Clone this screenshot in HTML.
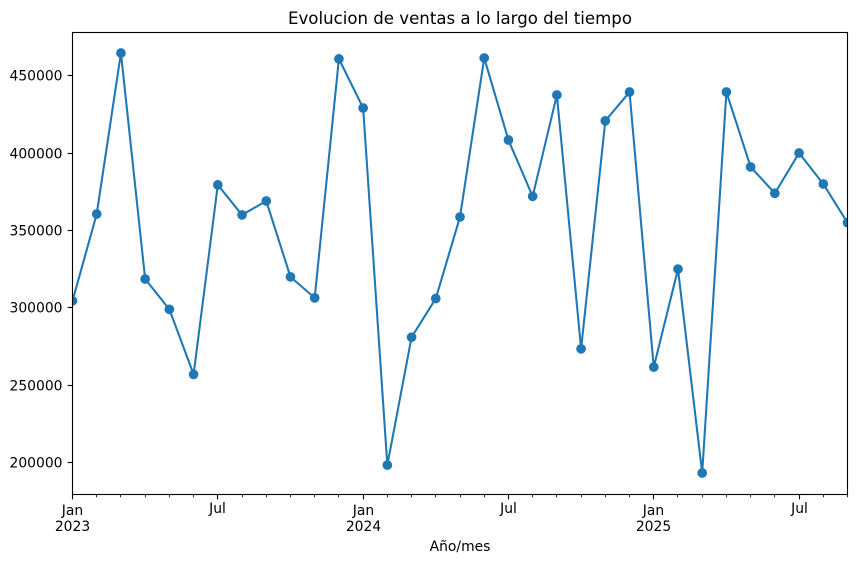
<!DOCTYPE html>
<html lang="es">
<head>
<meta charset="utf-8">
<title>Evolucion de ventas a lo largo del tiempo</title>
<style>
html,body{margin:0;padding:0;background:#fff;width:857px;height:563px;overflow:hidden}
svg{display:block}
text{font-family:"DejaVu Sans","Liberation Sans",sans-serif;fill:#000}
</style>
</head>
<body>
<svg id="chart" width="857" height="563" viewBox="0 0 857 563" xmlns="http://www.w3.org/2000/svg">
  <defs><clipPath id="plot-clip"><rect x="72.5" y="32.5" width="775" height="462"></rect></clipPath></defs>
  <rect x="0" y="0" width="857" height="563" fill="#fff"></rect>
  <text x="460" y="24" font-size="16.6" text-anchor="middle">Evolucion de ventas a lo largo del tiempo</text>
  <text x="460" y="551" font-size="13.89" text-anchor="middle">Año/mes</text>
  <g id="ticks"></g>
  <g id="series" clip-path="url(#plot-clip)"></g>
  <rect x="72.5" y="32.5" width="775" height="462" fill="none" stroke="#000" stroke-width="1.11"></rect>
</svg>
<script>
const months = ["2023-01","2023-02","2023-03","2023-04","2023-05","2023-06","2023-07","2023-08","2023-09","2023-10","2023-11","2023-12","2024-01","2024-02","2024-03","2024-04","2024-05","2024-06","2024-07","2024-08","2024-09","2024-10","2024-11","2024-12","2025-01","2025-02","2025-03","2025-04","2025-05","2025-06","2025-07","2025-08","2025-09"];
const sales = [304500,360600,464600,318600,299000,257000,379400,360000,369000,320000,306400,460800,429100,198400,281000,306000,358700,461400,408400,372000,437500,273500,420800,439400,261700,325000,193300,439400,391000,374000,400000,380000,355000];
const yTicks = [200000,250000,300000,350000,400000,450000];
const yDomain = [179400,477850];
const monthNames = {"01":"Jan","07":"Jul"};

const NS = "http://www.w3.org/2000/svg";
const L = 72.5, R = 847.5, T = 32.5, B = 494.5;
const xScale = i => L + i * (R - L) / (months.length - 1);
const yScale = v => B - (v - yDomain[0]) * (B - T) / (yDomain[1] - yDomain[0]);
const snap = p => Math.round(p - 0.5) + 0.5;
const ticks = document.getElementById("ticks");
const series = document.getElementById("series");

function make(tag, attrs, parent) {
  const el = document.createElementNS(NS, tag);
  for (const k in attrs) el.setAttribute(k, attrs[k]);
  parent.appendChild(el);
  return el;
}

yTicks.forEach(v => {
  const y = snap(yScale(v));
  const tick = make("line", {x1: L, x2: L - 4.86, y1: y, y2: y, stroke: "#000", "stroke-width": 1.11}, ticks);
  
  
  const label = make("text", {x: 62.5, y: y + 5, "font-size": 13.89, "text-anchor": "end"}, ticks);
  
  
  label.textContent = String(v);
});

months.forEach((m, i) => {
  const x = snap(xScale(i));
  const parts = m.split("-");
  const name = monthNames[parts[1]];
  const len = name ? 4.86 : 2.78;
  const tick = make("line", {x1: x, x2: x, y1: B, y2: B + len, stroke: "#000", "stroke-width": name ? 1.11 : 0.83}, ticks);
  
  
  if (name) {
    const isJan = parts[1] === "01";
    const label = make("text", {x: x, y: isJan ? 515 : 513, "font-size": 13.89, "text-anchor": "middle"}, ticks);
    
    
    label.textContent = name;
    if (isJan) {
      const year = make("text", {x: x, y: 531, "font-size": 13.89, "text-anchor": "middle"}, ticks);
      
      
      year.textContent = parts[0];
    }
  }
});

const linePoints = sales.map((v, i) => xScale(i).toFixed(2) + "," + yScale(v).toFixed(2)).join(" ");
const line = make("polyline", {points: linePoints, fill: "none", stroke: "#1f77b4", "stroke-width": 2.08, "stroke-linejoin": "round", "stroke-linecap": "square"}, series);



sales.forEach((v, i) => {
  const dot = make("circle", {cx: xScale(i).toFixed(2), cy: yScale(v).toFixed(2), r: 4.86, fill: "#1f77b4"}, series);
  
  
});
</script>
</body>
</html>
